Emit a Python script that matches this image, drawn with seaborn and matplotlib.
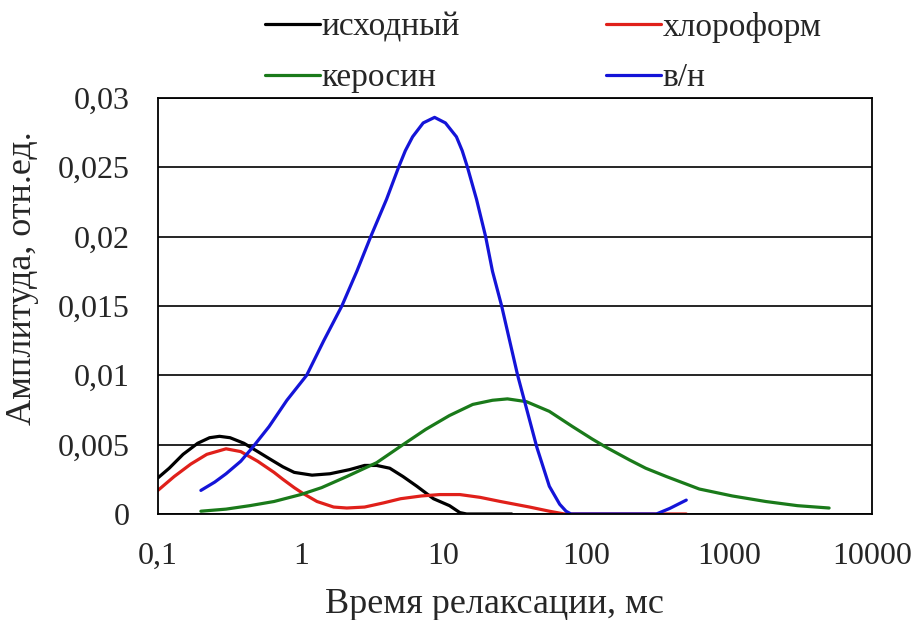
import numpy as np
import pandas as pd
import matplotlib
matplotlib.use("Agg")
import matplotlib.pyplot as plt
import seaborn as sns
from matplotlib.ticker import FixedLocator, FixedFormatter

# values (x = relaxation time, ms; y = amplitude)
ish_x = [0.1, 0.12, 0.15, 0.19, 0.23, 0.27, 0.32, 0.4, 0.5, 0.6, 0.75, 0.9, 1.2, 1.6, 2.2, 2.8, 3.4,
         4.2, 5.2, 6.5, 8.5, 11, 13, 14.5, 20, 30]
ish_y = [0.0026, 0.0033, 0.0043, 0.0051, 0.0055, 0.0056, 0.0055, 0.0051, 0.0045, 0.0040, 0.0034, 0.0030,
         0.0028, 0.0029, 0.0032, 0.0035, 0.0035, 0.0033, 0.0027, 0.0020, 0.0011, 0.0006, 0.0001, 0.0, 0.0, 0.0]

chl_x = [0.1, 0.13, 0.17, 0.22, 0.3, 0.38, 0.5, 0.65, 0.75, 0.9, 1.03, 1.3, 1.7, 2.1, 2.8, 3.8, 5, 7, 9.4,
         13, 18, 25, 40, 55, 70, 100, 200, 500]
chl_y = [0.0017, 0.0027, 0.0036, 0.0043, 0.0047, 0.0045, 0.0038, 0.0030, 0.0025, 0.0019, 0.0015, 0.0009,
         0.0005, 0.00043, 0.0005, 0.0008, 0.0011, 0.0013, 0.0014, 0.0014, 0.0012, 0.0009, 0.0005, 0.0002,
         0.0, 0.0, 0.0, 0.0]

ker_x = [0.2, 0.3, 0.44, 0.65, 1, 1.4, 2.1, 3.4, 5.2, 7.5, 11, 16, 22, 28, 38, 55, 80, 110, 138, 200, 260,
         363, 617, 1050, 1800, 3000, 5000]
ker_y = [0.0002, 0.00035, 0.0006, 0.0009, 0.0014, 0.0019, 0.0027, 0.0037, 0.0050, 0.0061, 0.0071, 0.0079,
         0.0082, 0.0083, 0.0081, 0.0074, 0.0063, 0.0054, 0.0048, 0.0039, 0.0033, 0.0027, 0.0018, 0.0013,
         0.0009, 0.0006, 0.00043]

vn_x = [0.2, 0.25, 0.3, 0.38, 0.46, 0.6, 0.8, 1.1, 1.45, 1.94, 2.47, 3.09, 3.99, 4.84, 5.4, 6.07, 7.2, 8.65,
        10.3, 12.3, 13.5, 14.7, 17, 19.7, 22, 25.5, 29, 33, 39, 45, 55, 65, 72, 78, 150, 309, 383, 500]
vn_y = [0.0017, 0.0023, 0.0029, 0.0038, 0.0048, 0.0063, 0.0082, 0.0100, 0.0125, 0.0150, 0.0175, 0.0200,
        0.0227, 0.0250, 0.0262, 0.0272, 0.0282, 0.0286, 0.0282, 0.0272, 0.0262, 0.0250, 0.0227, 0.0200,
        0.0175, 0.0150, 0.0125, 0.0100, 0.0072, 0.0048, 0.0020, 0.0007, 0.0002, 0.0, 0.0, 0.0, 0.0004, 0.0010]

labels = ["исходный", "хлороформ", "керосин", "в/н"]
colors = ["#000000", "#e0201a", "#1a7a1a", "#1414d8"]

xticks = [0.1, 1, 10, 100, 1000, 10000]
xtick_labels = ["0,1", "1", "10", "100", "1000", "10000"]
yticks = [0, 0.005, 0.01, 0.015, 0.02, 0.025, 0.03]
ytick_labels = ["0", "0,005", "0,01", "0,015", "0,02", "0,025", "0,03"]

frames = []
for lab, xs, ys in zip(labels, [ish_x, chl_x, ker_x, vn_x], [ish_y, chl_y, ker_y, vn_y]):
    frames.append(pd.DataFrame({"t": xs, "amp": ys, "sample": lab}))
df = pd.concat(frames, ignore_index=True)

sns.set_style("white")
plt.rcParams["font.family"] = ["Liberation Serif", "DejaVu Serif"]

fig = plt.figure(figsize=(9.18, 6.2), dpi=100)
ax = fig.add_axes([0.172, 0.171, 0.778, 0.671])

sns.lineplot(data=df, x="t", y="amp", hue="sample", hue_order=labels,
             palette=dict(zip(labels, colors)), sort=False, estimator=None,
             linewidth=2.3, ax=ax, legend=False)

ax.set_xscale("log")
ax.set_xlim(0.1, 10000)
ax.set_ylim(0, 0.03)
ax.xaxis.set_major_locator(FixedLocator(xticks))
ax.xaxis.set_major_formatter(FixedFormatter(xtick_labels))
ax.xaxis.set_minor_locator(FixedLocator([]))
ax.yaxis.set_major_locator(FixedLocator(yticks))
ax.yaxis.set_major_formatter(FixedFormatter(ytick_labels))
ax.tick_params(axis="x", labelsize=23, length=0, pad=20)
ax.tick_params(axis="y", labelsize=23, length=0, pad=20)
ax.grid(axis="y", color="black", linewidth=1.2)
ax.set_axisbelow(True)
for s in ax.spines.values():
    s.set_color("black")
    s.set_linewidth(1.3)

ax.set_xlabel("Время релаксации, мс", fontsize=26)
ax.set_ylabel("Амплитуда, отн.ед.", fontsize=26)
ax.xaxis.set_label_coords(0.471, -0.178)
ax.yaxis.set_label_coords(-0.166, 0.567)

# legend filled column-wise, so order gives rows: исходный/хлороформ, керосин/в/н
order = [0, 2, 1, 3]
handles = [plt.Line2D([], [], color=colors[i], linewidth=2.3) for i in order]
fig.legend(handles, [labels[i] for i in order], ncol=2, loc="upper left",
           bbox_to_anchor=(0.270, 1.008), frameon=False, fontsize=24, borderpad=0,
           handlelength=1.65, handletextpad=0.05, columnspacing=4.4, labelspacing=0.6)

fig.savefig("out.png", dpi=100)
